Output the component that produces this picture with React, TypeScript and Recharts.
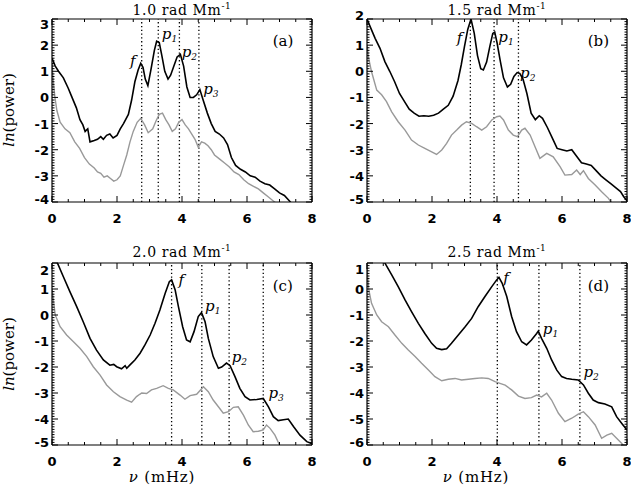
import React from "react";
import { LineChart, Line, XAxis, YAxis, ReferenceLine, ReferenceDot } from "recharts";

// ============================================
// Data
// ============================================

const X_MAJOR = [0, 2, 4, 6, 8];
const X_MINOR_STEP = 0.5;

const K_TITLES = ["1.0", "1.5", "2.0", "2.5"];
const PANEL_LETTERS = ["(a)", "(b)", "(c)", "(d)"];

// panel (a) k = 1.0
const aFreq = [0, 0.1, 0.2, 0.35, 0.5, 0.6, 0.75, 0.86, 0.95, 1.02, 1.1, 1.17, 1.3, 1.4, 1.5, 1.58, 1.68, 1.78, 1.88, 2.0, 2.1, 2.2, 2.35, 2.45, 2.55, 2.65, 2.73, 2.8, 2.87, 2.95, 3.05, 3.15, 3.22, 3.3, 3.38, 3.47, 3.57, 3.65, 3.75, 3.85, 3.95, 4.05, 4.15, 4.25, 4.35, 4.45, 4.55, 4.65, 4.78, 4.9, 5.02, 5.15, 5.28, 5.4, 5.52, 5.65, 5.8, 5.95, 6.1, 6.25, 6.4, 6.55, 6.7, 6.85, 7.0, 7.15, 7.3, 7.4];
const aPow = [1.5, 1.2, 1.0, 0.75, 0.35, 0.05, -0.4, -0.85, -1.05, -1.3, -1.2, -1.7, -1.65, -1.6, -1.5, -1.6, -1.45, -1.4, -1.55, -1.45, -1.2, -1.0, -0.65, -0.1, 0.6, 1.05, 1.3, 1.15, 0.7, 0.45, 1.1, 1.8, 2.15, 2.1, 1.6, 1.0, 0.7, 0.85, 1.2, 1.55, 1.65, 1.2, 0.4, 0.0, 0.0, 0.1, 0.3, -0.1, -0.6, -1.0, -1.3, -1.4, -1.55, -1.8, -2.3, -2.6, -2.75, -2.85, -3.0, -3.05, -3.2, -3.3, -3.35, -3.5, -3.65, -3.75, -3.95, -4.1];
const aGrayFreq = [0, 0.04, 0.09, 0.15, 0.25, 0.4, 0.55, 0.7, 0.85, 1.0, 1.15, 1.3, 1.4, 1.5, 1.6, 1.7, 1.8, 1.9, 2.0, 2.1, 2.2, 2.3, 2.4, 2.5, 2.62, 2.73, 2.85, 2.96, 3.1, 3.2, 3.3, 3.4, 3.5, 3.6, 3.7, 3.8, 3.9, 4.0, 4.1, 4.2, 4.3, 4.4, 4.5, 4.6, 4.7, 4.8, 4.9, 5.0, 5.15, 5.3, 5.45, 5.6, 5.75, 5.9, 6.05, 6.2, 6.35, 6.5, 6.65, 6.8, 6.95];
const aGrayPow = [1.3, 0.6, 0.0, -0.5, -0.95, -1.2, -1.35, -1.7, -1.95, -2.3, -2.55, -2.7, -2.85, -2.9, -3.05, -3.0, -3.1, -3.2, -3.15, -3.0, -2.6, -2.2, -1.7, -1.3, -0.95, -0.8, -1.05, -1.35, -1.2, -0.9, -0.65, -0.6, -0.85, -1.05, -1.3, -1.2, -0.95, -0.85, -1.05, -1.2, -1.4, -1.6, -1.9, -1.7, -1.75, -1.85, -2.0, -2.2, -2.35, -2.5, -2.65, -2.85, -2.95, -3.15, -3.3, -3.4, -3.5, -3.65, -3.8, -3.95, -4.1];
const aModes = [2.76, 3.27, 3.92, 4.52];

// panel (b) k = 1.5
const bFreq = [0, 0.1, 0.25, 0.4, 0.55, 0.7, 0.85, 1.0, 1.15, 1.3, 1.45, 1.6, 1.75, 1.9, 2.05, 2.2, 2.35, 2.5, 2.65, 2.8, 2.9, 3.0, 3.1, 3.2, 3.3, 3.4, 3.5, 3.58, 3.68, 3.78, 3.87, 3.93, 4.0, 4.1, 4.2, 4.32, 4.42, 4.52, 4.62, 4.7, 4.8, 4.92, 5.05, 5.18, 5.3, 5.4, 5.55, 5.7, 5.85, 6.0, 6.15, 6.3, 6.45, 6.6, 6.75, 6.9, 7.05, 7.2, 7.35, 7.5, 7.65, 7.8, 7.9, 8.0];
const bPow = [2.0, 1.7, 1.26, 0.88, 0.37, 0.0, -0.4, -0.85, -1.15, -1.45, -1.6, -1.72, -1.7, -1.72, -1.68, -1.6, -1.45, -1.3, -0.95, -0.35, 0.25, 0.95, 1.6, 2.0, 1.45, 0.6, 0.1, 0.05, 0.35, 0.95, 1.45, 1.5, 1.1, 0.4, -0.25, -0.6, -0.5, -0.2, -0.05, -0.08, -0.3, -0.85, -1.6, -1.85, -1.7, -1.8, -2.15, -2.55, -2.95, -3.0, -3.05, -3.0, -3.25, -3.5, -3.55, -3.6, -3.8, -4.0, -4.15, -4.3, -4.45, -4.6, -4.8, -4.95];
const bGrayFreq = [0, 0.05, 0.14, 0.3, 0.45, 0.6, 0.76, 0.96, 1.17, 1.37, 1.58, 1.78, 1.99, 2.14, 2.3, 2.45, 2.6, 2.76, 2.91, 3.06, 3.22, 3.37, 3.53, 3.68, 3.84, 3.99, 4.09, 4.2, 4.35, 4.5, 4.63, 4.76, 4.86, 5.02, 5.17, 5.32, 5.53, 5.73, 5.94, 6.09, 6.3, 6.45, 6.56, 6.66, 6.81, 7.02, 7.22, 7.43, 7.53];
const bGrayPow = [1.0, 0.5, -0.02, -0.72, -0.9, -1.16, -1.55, -1.93, -2.25, -2.63, -2.82, -2.95, -3.08, -3.18, -3.01, -2.76, -2.44, -2.25, -2.06, -1.93, -1.99, -2.12, -2.25, -2.12, -1.86, -1.74, -1.71, -1.86, -2.25, -2.44, -2.5, -2.25, -2.18, -2.44, -2.89, -3.33, -3.14, -3.27, -3.65, -3.97, -3.95, -3.78, -3.95, -3.8, -4.1, -4.35, -4.61, -4.86, -5.05];
const bModes = [3.18, 3.91, 4.66];

// panel (c) k = 2.0
const cFreq = [0.0, 0.15, 0.35, 0.55, 0.76, 0.96, 1.17, 1.37, 1.58, 1.78, 1.9, 1.99, 2.14, 2.25, 2.3, 2.4, 2.55, 2.71, 2.86, 3.02, 3.17, 3.32, 3.48, 3.61, 3.68, 3.79, 3.89, 4.02, 4.14, 4.25, 4.37, 4.5, 4.6, 4.71, 4.81, 4.96, 5.12, 5.22, 5.37, 5.48, 5.63, 5.78, 5.94, 6.09, 6.3, 6.5, 6.66, 6.81, 6.96, 7.12, 7.27, 7.43, 7.63, 7.84, 8.0];
const cPow = [2.3, 2.05, 1.47, 0.9, 0.32, -0.26, -0.9, -1.35, -1.73, -1.93, -1.9, -1.99, -2.07, -1.95, -2.05, -1.92, -1.73, -1.47, -1.15, -0.77, -0.32, 0.19, 0.83, 1.28, 1.35, 0.96, 0.32, -0.45, -0.96, -1.03, -0.64, -0.06, 0.09, -0.26, -0.9, -1.6, -2.05, -2.0, -1.85, -1.95, -2.37, -2.82, -3.14, -3.27, -3.25, -3.21, -3.53, -3.91, -4.06, -4.03, -4.0, -4.29, -4.62, -4.87, -4.95];
const cGrayFreq = [0.0, 0.05, 0.1, 0.25, 0.45, 0.66, 0.86, 1.07, 1.27, 1.48, 1.68, 1.89, 2.09, 2.3, 2.45, 2.6, 2.7, 2.76, 2.91, 3.06, 3.22, 3.42, 3.58, 3.73, 3.94, 4.09, 4.25, 4.45, 4.66, 4.81, 4.96, 5.12, 5.27, 5.43, 5.58, 5.73, 5.89, 6.04, 6.19, 6.35, 6.5, 6.6, 6.71, 6.86, 7.02];
const cGrayPow = [1.0, 0.5, 0.0, -0.45, -0.77, -1.03, -1.28, -1.6, -1.99, -2.31, -2.69, -2.95, -3.14, -3.27, -3.35, -3.14, -3.05, -3.0, -3.02, -2.88, -2.82, -2.72, -2.82, -2.88, -3.08, -3.24, -3.1, -3.05, -2.76, -2.95, -3.27, -3.53, -3.78, -3.72, -3.55, -3.53, -3.85, -4.23, -4.49, -4.47, -4.42, -4.23, -4.36, -4.62, -5.05];
const cModes = [3.68, 4.61, 5.45, 6.5];

// panel (d) k = 2.5
const dFreq = [0.3, 0.45, 0.55, 0.76, 0.96, 1.17, 1.37, 1.58, 1.78, 1.99, 2.14, 2.3, 2.45, 2.6, 2.81, 3.02, 3.22, 3.42, 3.63, 3.84, 3.99, 4.06, 4.16, 4.3, 4.45, 4.6, 4.76, 4.91, 5.06, 5.22, 5.27, 5.37, 5.53, 5.68, 5.84, 5.99, 6.14, 6.3, 6.5, 6.66, 6.81, 6.96, 7.12, 7.32, 7.53, 7.68, 7.84, 8.0];
const dPow = [1.8, 1.35, 1.0, 0.54, 0.09, -0.42, -0.87, -1.32, -1.71, -2.09, -2.28, -2.33, -2.3, -2.09, -1.77, -1.45, -1.13, -0.68, -0.29, 0.09, 0.35, 0.45, 0.22, -0.29, -1.06, -1.64, -2.03, -2.15, -1.96, -1.71, -1.62, -1.9, -2.28, -2.73, -3.12, -3.37, -3.44, -3.47, -3.5, -3.69, -4.01, -4.27, -4.37, -4.42, -4.53, -4.91, -5.17, -5.42];
const dGrayFreq = [0.0, 0.05, 0.14, 0.3, 0.45, 0.66, 0.86, 1.07, 1.27, 1.48, 1.68, 1.89, 2.09, 2.3, 2.5, 2.71, 2.91, 3.12, 3.32, 3.53, 3.73, 3.94, 4.09, 4.25, 4.45, 4.66, 4.86, 5.06, 5.22, 5.37, 5.53, 5.68, 5.89, 6.09, 6.3, 6.5, 6.66, 6.81, 7.02, 7.22, 7.38, 7.53, 7.68, 7.84, 7.9];
const dGrayPow = [0.8, 0.0, -0.55, -1.0, -1.26, -1.45, -1.77, -2.09, -2.35, -2.6, -2.86, -3.12, -3.37, -3.53, -3.47, -3.44, -3.5, -3.47, -3.44, -3.42, -3.44, -3.56, -3.63, -3.7, -3.88, -4.12, -4.21, -4.18, -4.08, -4.15, -4.01, -4.27, -4.78, -5.1, -4.97, -4.81, -4.72, -4.91, -5.23, -5.74, -5.62, -5.55, -5.74, -5.94, -6.05];
const dModes = [4.01, 5.29, 6.55];

// y-axis ranges
const aYMajor = [-4, -3, -2, -1, 0, 1, 2, 3];
const bYMajor = [-5, -4, -3, -2, -1, 0, 1, 2];
const cYMajor = [-5, -4, -3, -2, -1, 0, 1, 2];
const dYMajor = [-6, -5, -4, -3, -2, -1, 0, 1];

// ============================================
// Helpers
// ============================================

type Pt = { x: number; y: number };
type ModeLabel = { x: number; y: number; name: string; sub?: string };

const zip = (xs: number[], ys: number[]): Pt[] => xs.map((x, i) => ({ x, y: ys[i] }));

const SERIF = "'DejaVu Serif', 'Liberation Serif', serif";
const SANS = "'DejaVu Sans', 'Liberation Sans', sans-serif";

const X_TICKS: number[] = [];
for (let i = 0; i <= X_MAJOR[X_MAJOR.length - 1] / X_MINOR_STEP; i++) X_TICKS.push(i * X_MINOR_STEP);

function minorTicks(major: number[]): number[] {
  const lo = major[0] * 10;
  const hi = major[major.length - 1] * 10;
  const out: number[] = [];
  for (let i = lo; i <= hi; i++) out.push(i / 10);
  return out;
}

const near = (list: number[], v: number) => list.some((m) => Math.abs(m - v) < 1e-6);

// ============================================
// Panel
// ============================================

interface PanelProps {
  left: number;
  top: number;
  width: number;
  height: number;
  plotTop: number;
  plotBottom: number;
  yMajor: number[];
  black: Pt[];
  gray: Pt[];
  modes: number[];
  labels: ModeLabel[];
  letter: { x: number; y: number; text: string };
  topShift: number;
}

const X_AXIS_H = 30;
const Y_AXIS_W = 40;
const TOP_AXIS_H = 1;
const RIGHT_AXIS_W = 1;

function Panel(p: PanelProps) {
  const yDomain = [p.yMajor[0], p.yMajor[p.yMajor.length - 1]];
  const yTop = yDomain[1];
  const yBot = yDomain[0];
  const yTicks = minorTicks(p.yMajor);

  // plot area: x from 52 to 312 (local), y from plotTop to plotBottom
  const margin = {
    top: p.plotTop - TOP_AXIS_H,
    bottom: p.height - p.plotBottom - X_AXIS_H,
    left: 52 - Y_AXIS_W,
    right: p.width - 52 - 260 - RIGHT_AXIS_W,
  };

  const bottomTick = (t: any) => {
    const v = t.payload.value;
    const major = near(X_MAJOR, v);
    return (
      <g>
        <line x1={t.x} y1={t.y} x2={t.x} y2={t.y - (major ? 6 : 3)} stroke="#000" strokeWidth={1} />
        {major && (
          <text
            x={t.x}
            y={t.y + 21}
            textAnchor="middle"
            fontFamily={SANS}
            fontWeight="bold"
            fontSize={13}
            fill="#000"
          >
            {v}
          </text>
        )}
      </g>
    );
  };
  const topTick = (t: any) => {
    const major = near(X_MAJOR, t.payload.value);
    return <line x1={t.x} y1={t.y} x2={t.x} y2={t.y + (major ? 6 : 3)} stroke="#000" strokeWidth={1} />;
  };
  const leftTick = (t: any) => {
    const v = t.payload.value;
    const major = near(p.yMajor, v);
    let shift = 5;
    if (Math.abs(v - yTop) < 1e-6) shift += p.topShift;
    if (Math.abs(v - yBot) < 1e-6) shift -= 3;
    return (
      <g>
        <line x1={t.x} y1={t.y} x2={t.x + (major ? 6 : 2.5)} y2={t.y} stroke="#000" strokeWidth={1} />
        {major && (
          <text
            x={t.x - 3}
            y={t.y + shift}
            textAnchor="end"
            fontFamily={SANS}
            fontWeight="bold"
            fontSize={13}
            fill="#000"
          >
            {String(Math.round(v))}
          </text>
        )}
      </g>
    );
  };
  const rightTick = (t: any) => {
    const major = near(p.yMajor, t.payload.value);
    return <line x1={t.x} y1={t.y} x2={t.x - (major ? 6 : 2.5)} y2={t.y} stroke="#000" strokeWidth={1} />;
  };

  const frame = { stroke: "#000", strokeWidth: 1.2 };

  return (
    <div style={{ position: "absolute", left: p.left, top: p.top }}>
      <LineChart width={p.width} height={p.height} margin={margin}>
        <XAxis
          xAxisId="b"
          dataKey="x"
          type="number"
          domain={[0, 8]}
          allowDataOverflow
          ticks={X_TICKS}
          interval={0}
          height={X_AXIS_H}
          tickSize={0}
          tickMargin={0}
          tickLine={false}
          axisLine={frame}
          tick={bottomTick}
        />
        <XAxis
          xAxisId="t"
          orientation="top"
          dataKey="x"
          type="number"
          domain={[0, 8]}
          allowDataOverflow
          ticks={X_TICKS}
          interval={0}
          height={TOP_AXIS_H}
          tickSize={0}
          tickMargin={0}
          tickLine={false}
          axisLine={frame}
          tick={topTick}
        />
        <YAxis
          yAxisId="l"
          type="number"
          domain={yDomain}
          allowDataOverflow
          ticks={yTicks}
          interval={0}
          width={Y_AXIS_W}
          tickSize={0}
          tickMargin={0}
          tickLine={false}
          axisLine={frame}
          tick={leftTick}
        />
        <YAxis
          yAxisId="r"
          orientation="right"
          type="number"
          domain={yDomain}
          allowDataOverflow
          ticks={yTicks}
          interval={0}
          width={RIGHT_AXIS_W}
          tickSize={0}
          tickMargin={0}
          tickLine={false}
          axisLine={frame}
          tick={rightTick}
        />

        {p.modes.map((m) => (
          <ReferenceLine
            key={m}
            xAxisId="b"
            yAxisId="l"
            x={m}
            stroke="#000"
            strokeWidth={1.3}
            strokeDasharray="1.3 2.5"
          />
        ))}

        <Line
          xAxisId="b"
          yAxisId="l"
          data={p.gray}
          dataKey="y"
          type="linear"
          stroke="#999999"
          strokeWidth={1.4}
          dot={false}
          isAnimationActive={false}
        />
        <Line
          xAxisId="b"
          yAxisId="l"
          data={p.black}
          dataKey="y"
          type="linear"
          stroke="#000000"
          strokeWidth={1.6}
          dot={false}
          isAnimationActive={false}
        />

        {p.labels.map((l) => (
          <ReferenceDot
            key={l.name + (l.sub || "")}
            xAxisId="b"
            yAxisId="l"
            x={l.x}
            y={l.y}
            r={0}
            ifOverflow="visible"
            shape={(s: any) => (
              <text
                x={s.cx}
                y={s.cy + 5}
                fontFamily={SERIF}
                fontStyle="italic"
                fontSize={15}
                fill="#000"
              >
                {l.name}
                {l.sub && (
                  <tspan dy={3} fontSize={9}>
                    {l.sub}
                  </tspan>
                )}
              </text>
            )}
          />
        ))}

        <ReferenceDot
          xAxisId="b"
          yAxisId="l"
          x={p.letter.x}
          y={p.letter.y}
          r={0}
          ifOverflow="visible"
          shape={(s: any) => (
            <text x={s.cx} y={s.cy + 5} fontFamily={SERIF} fontSize={15} fill="#000">
              {p.letter.text}
            </text>
          )}
        />
      </LineChart>
    </div>
  );
}

// ============================================
// App
// ============================================

export default function App() {
  const titles = [
    { x: 182, y: 15, k: K_TITLES[0] },
    { x: 497, y: 15, k: K_TITLES[1] },
    { x: 182, y: 257, k: K_TITLES[2] },
    { x: 497, y: 257, k: K_TITLES[3] },
  ];

  return (
    <div
      style={{
        position: "absolute",
        left: 0,
        top: 0,
        width: 631,
        height: 491,
        background: "#fff",
        overflow: "hidden",
      }}
    >
      <Panel
        left={0}
        top={0}
        width={325}
        height={245}
        plotTop={19}
        plotBottom={202}
        yMajor={aYMajor}
        black={zip(aFreq, aPow)}
        gray={zip(aGrayFreq, aGrayPow)}
        modes={aModes}
        labels={[
          { x: 2.4, y: 1.39, name: "f" },
          { x: 3.38, y: 2.43, name: "p", sub: "1" },
          { x: 3.99, y: 1.75, name: "p", sub: "2" },
          { x: 4.65, y: 0.32, name: "p", sub: "3" },
        ]}
        letter={{ x: 6.79, y: 2.16, text: PANEL_LETTERS[0] }}
        topShift={5}
      />
      <Panel
        left={315}
        top={0}
        width={316}
        height={245}
        plotTop={19}
        plotBottom={202}
        yMajor={bYMajor}
        black={zip(bFreq, bPow)}
        gray={zip(bGrayFreq, bGrayPow)}
        modes={bModes}
        labels={[
          { x: 2.76, y: 1.26, name: "f" },
          { x: 4.04, y: 1.32, name: "p", sub: "1" },
          { x: 4.71, y: -0.05, name: "p", sub: "2" },
        ]}
        letter={{ x: 6.79, y: 1.16, text: PANEL_LETTERS[1] }}
        topShift={-4}
      />
      <Panel
        left={0}
        top={245}
        width={325}
        height={246}
        plotTop={18}
        plotBottom={200}
        yMajor={cYMajor}
        black={zip(cFreq, cPow)}
        gray={zip(cGrayFreq, cGrayPow)}
        modes={cModes}
        labels={[
          { x: 3.89, y: 1.35, name: "f" },
          { x: 4.71, y: 0.35, name: "p", sub: "1" },
          { x: 5.53, y: -1.63, name: "p", sub: "2" },
          { x: 6.66, y: -3.01, name: "p", sub: "3" },
        ]}
        letter={{ x: 6.79, y: 1.12, text: PANEL_LETTERS[2] }}
        topShift={7}
      />
      <Panel
        left={315}
        top={245}
        width={316}
        height={246}
        plotTop={18}
        plotBottom={200}
        yMajor={dYMajor}
        black={zip(dFreq, dPow)}
        gray={zip(dGrayFreq, dGrayPow)}
        modes={dModes}
        labels={[
          { x: 4.19, y: 0.44, name: "f" },
          { x: 5.41, y: -1.54, name: "p", sub: "1" },
          { x: 6.66, y: -3.21, name: "p", sub: "2" },
        ]}
        letter={{ x: 6.79, y: 0.12, text: PANEL_LETTERS[3] }}
        topShift={6}
      />

      {/* titles and axis titles */}
      <svg
        width={631}
        height={491}
        style={{ position: "absolute", left: 0, top: 0, pointerEvents: "none" }}
      >
        {titles.map((t) => (
          <text
            key={t.k}
            x={t.x}
            y={t.y}
            textAnchor="middle"
            fontFamily={SERIF}
            fontSize={14}
            letterSpacing={0.6}
            fill="#000"
          >
            {t.k} rad Mm
            <tspan dy={-6} fontSize={9}>
              -1
            </tspan>
          </text>
        ))}
        {[110, 354].map((cy) => (
          <text
            key={cy}
            transform={`translate(14, ${cy}) rotate(-90)`}
            textAnchor="middle"
            fontFamily={SERIF}
            fontSize={15}
            fill="#000"
          >
            <tspan fontStyle="italic">ln</tspan>(power)
          </text>
        ))}
        {[162, 476].map((cx) => (
          <text
            key={cx}
            x={cx}
            y={482}
            textAnchor="middle"
            fontFamily={SERIF}
            fontSize={15}
            letterSpacing={0.8}
            fill="#000"
          >
            <tspan fontStyle="italic">ν</tspan> (mHz)
          </text>
        ))}
      </svg>
    </div>
  );
}
